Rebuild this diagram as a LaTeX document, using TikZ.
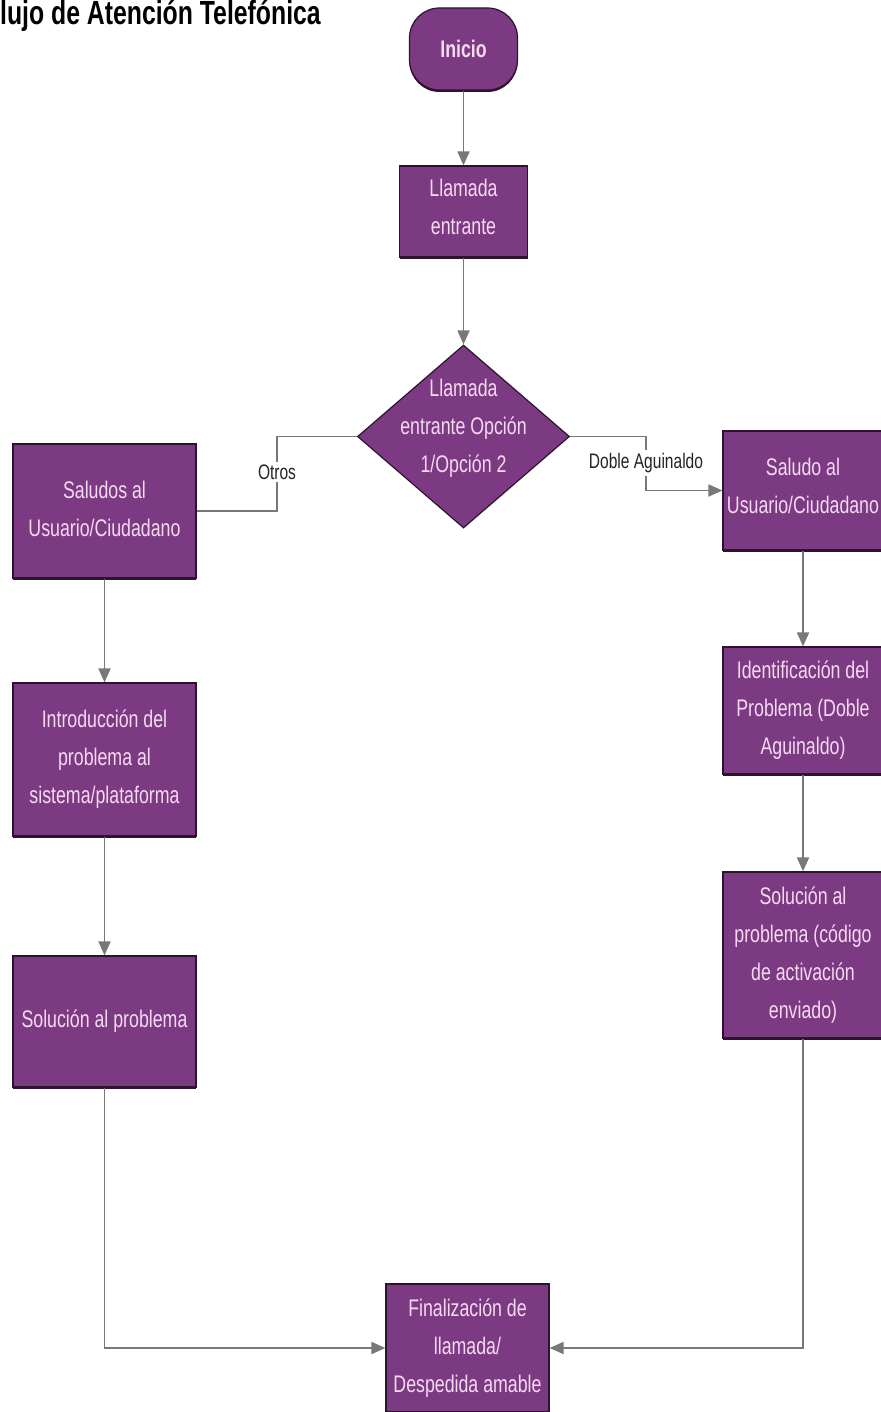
\documentclass[tikz,border=0pt]{standalone}
\usepackage{fontspec}
\setmainfont[FakeStretch=0.74]{Liberation Sans}
\usetikzlibrary{shapes.geometric,arrows.meta,shadows}
\definecolor{boxfill}{RGB}{124,58,130}
\definecolor{boxedge}{RGB}{45,20,45}
\definecolor{boxtext}{RGB}{246,218,242}
\definecolor{linegray}{RGB}{120,120,120}
\definecolor{labeltext}{RGB}{35,35,35}

\begin{document}
\begin{tikzpicture}[x=1pt,y=-1pt,
  box/.style={draw=boxedge, line width=1.2pt, fill=boxfill, text=boxtext,
    align=center, inner sep=0pt, font=\fontsize{24}{38}\selectfont,
    drop shadow={shadow xshift=0pt, shadow yshift=-2pt, fill=boxedge, opacity=1}},
  decision/.style={diamond, draw=boxedge, line width=1.2pt, fill=boxfill,
    inner sep=0pt, minimum width=212pt, minimum height=183pt},
  boxtxt/.style={text=boxtext, align=center, inner sep=0pt, font=\fontsize{24}{38}\selectfont},
  conn/.style={draw=linegray, line width=1.8pt},
  arr/.style={conn, -{Triangle[length=14pt,width=12pt]}},
  lbl/.style={fill=white, text=labeltext, inner sep=3pt, font=\fontsize{21}{25}\selectfont}]

\useasboundingbox (0,0) rectangle (880,1412);
\fill[white] (0,0) rectangle (880,1412);

% title
\node[anchor=base west, inner sep=0pt, font=\bfseries\fontsize{33.5}{40}\selectfont] (title) at (0,25) {lujo de Atención Telefónica};

% central column
\node[box, rounded corners=30pt, minimum width=108pt, minimum height=82pt,
      font=\bfseries\fontsize{24}{38}\selectfont] (inicio) at (463.5,49) {Inicio};
\node[box, minimum width=128pt, minimum height=91pt, text depth=9pt] (llam) at (463.5,211.5) {Llamada\\entrante};
\node[decision] (dia) at (463.5,436.5) {};
\node[boxtxt] (diatxt) at (463.5,428) {Llamada\\entrante Opción\\1/Opción 2};

% left branch
\node[box, minimum width=183pt, minimum height=134pt, text depth=5pt] (l1) at (104.5,511) {Saludos al\\Usuario/Ciudadano};
\node[box, minimum width=183pt, minimum height=153pt] (l2) at (104.5,759.5) {Introducción del\\problema al\\sistema/plataforma};
\node[box, minimum width=183pt, minimum height=131pt] (l3) at (104.5,1021.5) {Solución al problema};

% right branch
\node[box, minimum width=160pt, minimum height=119pt, text depth=10pt] (r1) at (803,490.5) {Saludo al\\Usuario/Ciudadano};
\node[box, minimum width=160pt, minimum height=127pt] (r2) at (803,710.5) {Identificación del\\Problema (Doble\\Aguinaldo)};
\node[box, minimum width=160pt, minimum height=166pt] (r3) at (803,955) {Solución al\\problema (código\\de activación\\enviado)};

% end
\node[box, minimum width=163pt, minimum height=128pt] (fin) at (467.5,1348) {Finalización de\\llamada/\\Despedida amable};

% connectors
\draw[arr] (inicio) -- (llam);
\draw[arr] (llam) -- (dia);

\coordinate (otrosbend) at (277,472);
\draw[conn] (dia.west) -| (otrosbend) |- (l1.east);
\node[lbl] (otros) at (otrosbend) {Otros};

\coordinate (doblebend) at (646,463);
\draw[arr] (dia.east) -| (doblebend) |- (r1.west);
\node[lbl] (doble) at (doblebend) {Doble Aguinaldo};

\draw[arr] (l1) -- (l2);
\draw[arr] (l2) -- (l3);
\draw[arr] (r1) -- (r2);
\draw[arr] (r2) -- (r3);
\draw[arr] (l3.south) |- (fin.west);
\draw[arr] (r3.south) |- (fin.east);
\end{tikzpicture}
\end{document}
